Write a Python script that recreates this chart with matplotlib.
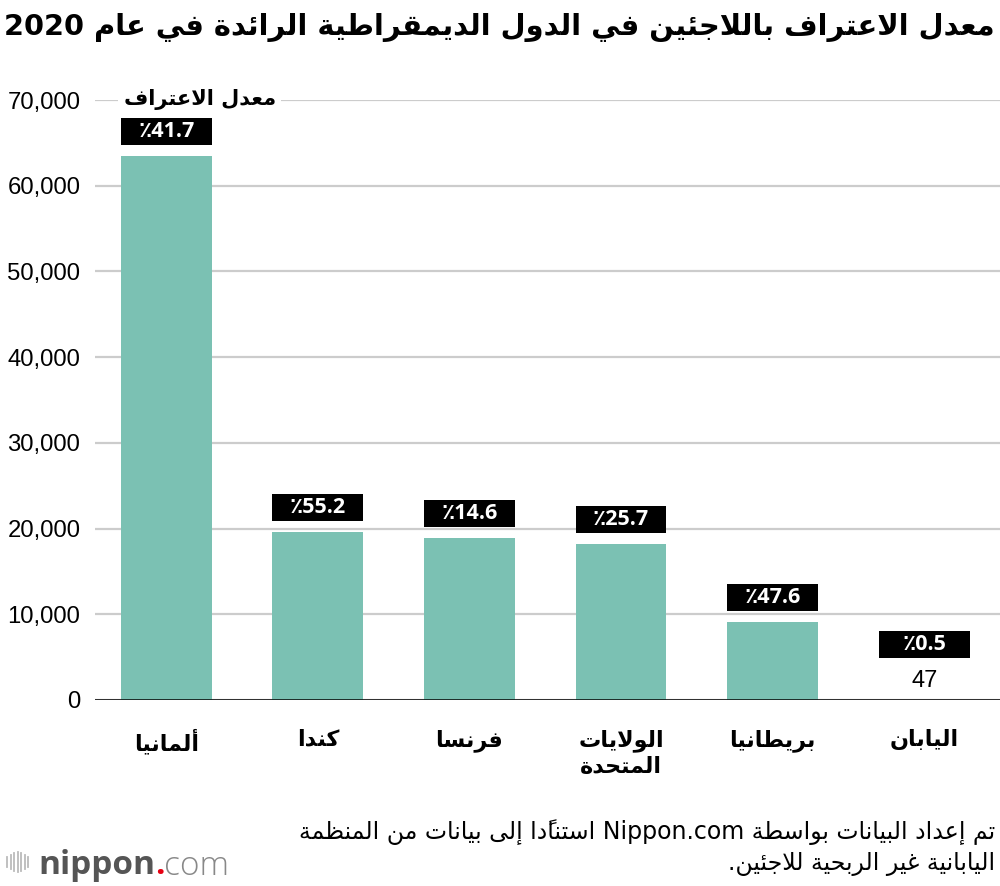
import re
import matplotlib
matplotlib.use("Agg")
import matplotlib.pyplot as plt
from matplotlib.lines import Line2D

# ---- data ----
countries = ["ألمانيا", "كندا", "فرنسا", "الولايات\nالمتحدة", "بريطانيا", "اليابان"]
recognized = [63456, 19600, 18900, 18200, 9100, 47]
rates = ["41.7", "55.2", "14.6", "25.7", "47.6", "0.5"]
yticks = [0, 10000, 20000, 30000, 40000, 50000, 60000, 70000]

title = "معدل الاعتراف باللاجئين في الدول الديمقراطية الرائدة في عام 2020"
series_label = "معدل الاعتراف"
source_lines = ["تم إعداد البيانات بواسطة Nippon.com استنادًا إلى بيانات من المنظمة",
                "اليابانية غير الربحية للاجئين."]

BAR = "#7bc1b3"

# ---- tiny arabic shaper (matplotlib has no RTL shaping) ----
# letter: (isolated code point, number of forms)
_forms = {
    "ء": (0xFE80, 1), "آ": (0xFE81, 2), "أ": (0xFE83, 2), "ؤ": (0xFE85, 2),
    "إ": (0xFE87, 2), "ئ": (0xFE89, 4), "ا": (0xFE8D, 2), "ب": (0xFE8F, 4),
    "ة": (0xFE93, 2), "ت": (0xFE95, 4), "ث": (0xFE99, 4), "ج": (0xFE9D, 4),
    "ح": (0xFEA1, 4), "خ": (0xFEA5, 4), "د": (0xFEA9, 2), "ذ": (0xFEAB, 2),
    "ر": (0xFEAD, 2), "ز": (0xFEAF, 2), "س": (0xFEB1, 4), "ش": (0xFEB5, 4),
    "ص": (0xFEB9, 4), "ض": (0xFEBD, 4), "ط": (0xFEC1, 4), "ظ": (0xFEC5, 4),
    "ع": (0xFEC9, 4), "غ": (0xFECD, 4), "ف": (0xFED1, 4), "ق": (0xFED5, 4),
    "ك": (0xFED9, 4), "ل": (0xFEDD, 4), "م": (0xFEE1, 4), "ن": (0xFEE5, 4),
    "ه": (0xFEE9, 4), "و": (0xFEED, 2), "ى": (0xFEEF, 2), "ي": (0xFEF1, 4),
    "\uFEF5": (0xFEF5, 2), "\uFEF7": (0xFEF7, 2), "\uFEF9": (0xFEF9, 2), "\uFEFB": (0xFEFB, 2),
}
_lamalef = {"لآ": "\uFEF5", "لأ": "\uFEF7", "لإ": "\uFEF9", "لا": "\uFEFB"}
_marks = set(chr(c) for c in range(0x064B, 0x0653))


def shape(s):
    for k, v in _lamalef.items():
        s = s.replace(k, v)
    chars = list(s)
    letters = [i for i, c in enumerate(chars) if c not in _marks]
    out = chars[:]
    for n, i in enumerate(letters):
        c = chars[i]
        if c not in _forms:
            continue
        base, nf = _forms[c]
        prev = chars[letters[n - 1]] if n > 0 else None
        nxt = chars[letters[n + 1]] if n + 1 < len(letters) else None
        jp = prev in _forms and _forms[prev][1] == 4 and nf > 1
        jn = nf == 4 and nxt in _forms and _forms[nxt][1] > 1
        if jp and jn:
            out[i] = chr(base + 3)
        elif jp:
            out[i] = chr(base + 1)
        elif jn:
            out[i] = chr(base + 2)
        else:
            out[i] = chr(base)
    s = "".join(out)
    # tokens: ltr runs kept, everything else reversed (marks stay with base)
    toks = re.findall(r"[A-Za-z0-9]+(?:[.,][A-Za-z0-9]+)*|.[\u064B-\u0652]*", s)
    return "".join(reversed(toks))


def ar(s):
    return "\n".join(shape(line) for line in s.split("\n"))


AR = ["DejaVu Sans"]

fig = plt.figure(figsize=(10, 8.86), dpi=100)
ax = fig.add_axes([0.095, 186 / 886, 0.905, 600 / 886])

x = list(range(len(countries)))
ax.bar(x, recognized, width=0.6, color=BAR, zorder=2)

ax.set_ylim(0, 70000)
ax.set_xlim(-0.47, 5.5)
ax.set_yticks(yticks)
ax.set_yticklabels([f"{v:,}" for v in yticks], family=["Liberation Sans"], fontsize=17.2)
ax.tick_params(axis="y", length=0, pad=10.5)
ax.tick_params(axis="x", length=0, pad=21)
ax.set_xticks(x)
ax.set_xticklabels([ar(c) for c in countries], family=AR, fontweight="bold",
                   fontsize=16, va="top", linespacing=1.3)
for sp in ax.spines.values():
    sp.set_visible(False)
ax.grid(axis="y", color="#cccccc", linewidth=1.6, zorder=0)
ax.set_axisbelow(True)
ax.axhline(0, color="black", linewidth=1.8, zorder=3)

# rate boxes above bars (sizes in data units from the y scale)
per_px = 70000 / 600
for xi, v, r in zip(x, recognized, rates):
    if v < 1000:
        ax.text(xi, v + 19 * per_px, f"{v}", ha="center", va="center",
                fontsize=17, family=["Liberation Sans"], zorder=4)
        bottom = v + 42 * per_px
    else:
        bottom = v + 11 * per_px
    ax.bar(xi, 27 * per_px, bottom=bottom, width=0.6, color="black", zorder=4)
    ax.text(xi, bottom + 13.5 * per_px, ar(r + "٪"), ha="center", va="center",
            color="white", fontweight="bold", fontsize=15.5,
            family=["Open Sans", "DejaVu Sans"], zorder=5)

ax.text(0.22, 70000, ar(series_label), ha="center", va="center", family=AR,
        fontweight="bold", fontsize=15, zorder=5,
        bbox=dict(facecolor="white", edgecolor="none", pad=4))

# title
fig.text(0.995, 1 - 28 / 886, ar(title), ha="right", va="center", family=AR,
         fontweight="bold", fontsize=20.8)

# source
fig.text(0.995, 1 - 832 / 886, ar(source_lines[0]), ha="right", va="center",
         family=AR, fontsize=17)
fig.text(0.995, 1 - 864 / 886, ar(source_lines[1]), ha="right", va="center",
         family=AR, fontsize=17)

# logo
for i, h in enumerate([10, 14, 18, 20, 18, 14, 10]):
    xx = (7 + i * 3.5) / 1000
    fig.add_artist(Line2D([xx, xx], [1 - (862 + h / 2) / 886, 1 - (862 - h / 2) / 886],
                          color="#bbbbbb", linewidth=1.3))
renderer = fig.canvas.get_renderer()
ypos = 1 - 866 / 886
t1 = fig.text(0.038, ypos, "nippon", ha="left", va="center", family=["Open Sans"],
              fontweight="bold", fontsize=24, color="#555555")
bb = t1.get_window_extent(renderer)
t2 = fig.text(bb.x1 / 1000, ypos, ".", ha="left", va="center", family=["Open Sans"],
              fontweight="bold", fontsize=24, color="#e60012")
bb = t2.get_window_extent(renderer)
fig.text(bb.x1 / 1000, ypos, "com", ha="left", va="center", family=["Open Sans"],
         fontweight="light", fontsize=24, color="#888888")

fig.savefig("out.png", dpi=100)
